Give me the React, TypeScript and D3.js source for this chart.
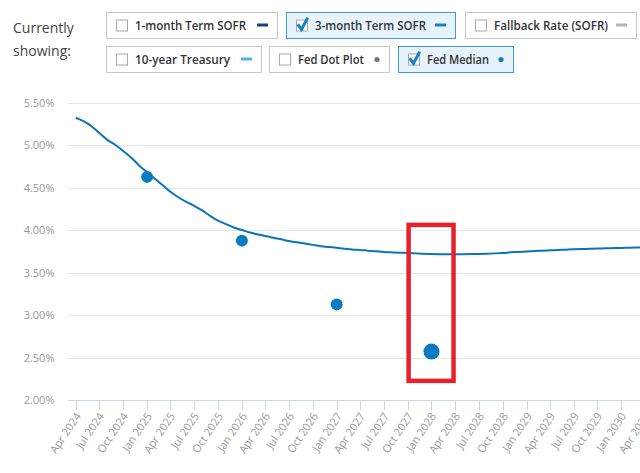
import React from "react";
import * as d3 from "d3";

const curveMonths: string[] = [
  "2024-04","2024-05","2024-06","2024-07","2024-08","2024-09","2024-10","2024-11","2024-12",
  "2025-01","2025-02","2025-03","2025-04","2025-05","2025-06","2025-07","2025-08","2025-09","2025-10","2025-11","2025-12",
  "2026-01","2026-02","2026-03","2026-04","2026-05","2026-06","2026-07","2026-08","2026-09","2026-10","2026-11","2026-12",
  "2027-01","2027-02","2027-03","2027-04","2027-05","2027-06","2027-07","2027-08","2027-09","2027-10","2027-11","2027-12",
  "2028-01","2028-02","2028-03","2028-04","2028-05","2028-06","2028-07","2028-08","2028-09","2028-10","2028-11","2028-12",
  "2029-01","2029-02","2029-03","2029-04","2029-05","2029-06","2029-07","2029-08","2029-09","2029-10","2029-11","2029-12",
  "2030-01","2030-02","2030-03","2030-04","2030-05"
];
const sofr3m: number[] = [
  5.32,5.28,5.22,5.14,5.06,5.00,4.93,4.85,4.76,
  4.68,4.60,4.53,4.45,4.385,4.33,4.285,4.23,4.165,4.11,4.07,4.03,
  4.00,3.97,3.95,3.93,3.91,3.89,3.87,3.855,3.84,3.825,3.81,3.80,
  3.79,3.78,3.77,3.765,3.757,3.75,3.742,3.737,3.733,3.73,3.725,3.72,
  3.718,3.716,3.715,3.714,3.716,3.718,3.719,3.721,3.725,3.73,3.737,3.742,
  3.748,3.753,3.757,3.761,3.765,3.769,3.773,3.776,3.779,3.782,3.785,3.787,
  3.789,3.792,3.794,3.796,3.798
];
const medianDates: string[] = ["2025-01-01", "2026-01-01", "2027-01-01", "2028-01-01"];
const medianValues: number[] = [4.625, 3.875, 3.125, 2.57];
const yTicks: number[] = [2.0, 2.5, 3.0, 3.5, 4.0, 4.5, 5.0, 5.5];

const legendRow1 = [
  { label: "1-month Term SOFR", checked: false, sym: "dash", color: "#1d3f73", x: 106, w: 171, tw: 111 },
  { label: "3-month Term SOFR", checked: true, sym: "dash", color: "#1a80c6", x: 286, w: 169, tw: 111 },
  { label: "Fallback Rate (SOFR)", checked: false, sym: "dash", color: "#b3b3b3", x: 465, w: 171, tw: 114 },
];
const legendRow2 = [
  { label: "10-year Treasury", checked: false, sym: "dash", color: "#4cb4ea", x: 106, w: 155, tw: 95 },
  { label: "Fed Dot Plot", checked: false, sym: "dot", color: "#777777", x: 269, w: 120, tw: 66 },
  { label: "Fed Median", checked: true, sym: "dot", color: "#1a80c6", x: 398, w: 115, tw: 62 },
];

const parseMonth = d3.timeParse("%Y-%m");
const parseDay = d3.timeParse("%Y-%m-%d");

export default function App() {
  const x = d3.scaleTime()
    .domain([new Date(2024, 3, 1), new Date(2030, 0, 1)])
    .range([75.7, 621.3]);
  const y = d3.scaleLinear().domain([2, 5.5]).range([400, 102.5]);
  const plotLeft = 68;
  const plotRight = 640;

  const linePts = curveMonths.map((m, i) => [parseMonth(m) as Date, sofr3m[i]] as [Date, number]);
  const line = d3.line<[Date, number]>()
    .x(d => x(d[0]))
    .y(d => y(d[1]))
    .curve(d3.curveMonotoneX);

  const xTickDates = d3.timeMonth.range(new Date(2024, 3, 1), new Date(2030, 4, 2), 3);
  const fmt = d3.timeFormat("%b %Y");
  const yFmt = (v: number) => d3.format(".2f")(v) + "%";

  const font = "'Open Sans', 'Noto Sans', sans-serif";

  const renderLegend = (items: typeof legendRow1, top: number) =>
    items.map((it, i) => {
      const h = 26;
      const cbX = it.x + 10;
      const cbY = top + 7.5;
      const textX = it.x + 29;
      return (
        <g key={top + "-" + i}>
          <rect x={it.x + 0.5} y={top + 0.5} width={it.w} height={h}
            fill={it.checked ? "#e6f3fb" : "#ffffff"}
            stroke={it.checked ? "#3d9ad6" : "#c8c8c8"} strokeWidth={1} />
          <rect x={cbX + 0.5} y={cbY + 0.5} width={11} height={11} fill="#fff" stroke="#a8a8a8" strokeWidth={1} />
          {it.checked && (
            <path d={`M${cbX + 2.5},${cbY + 6} L${cbX + 5.5},${cbY + 10} L${cbX + 11},${cbY - 0.5}`}
              fill="none" stroke="#1a80c6" strokeWidth={3} strokeLinecap="square" />
          )}
          <text x={textX} y={top + 17.5} fontFamily={font} fontSize={13} fontWeight={600} fill="#333"
            textLength={it.tw} lengthAdjust="spacingAndGlyphs">
            {it.label}
          </text>
          {it.sym === "dash" ? (
            <rect x={it.x + it.w - 20} y={top + 11.5} width={11} height={3} fill={it.color} />
          ) : (
            <circle cx={it.x + it.w - 12} cy={top + 13.5} r={2.6} fill={it.color} />
          )}
        </g>
      );
    });

  const rx1 = x(new Date(2027, 9, 5));
  const rx2 = x(new Date(2028, 2, 26));
  const ry1 = y(4.06);
  const ry2 = y(2.225);

  return (
    <svg width={640} height={473} style={{ position: "absolute", left: 0, top: 0, background: "#fff" }}
      fontFamily={font}>
      <rect width={640} height={473} fill="#fff" />
      <text x={13} y={33} fontSize={14} fill="#444">Currently</text>
      <text x={13} y={56} fontSize={14} fill="#444">showing:</text>
      {renderLegend(legendRow1, 12)}
      {renderLegend(legendRow2, 46)}

      {yTicks.map(t => (
        <g key={"y" + t}>
          {t !== 2 && (
            <line x1={plotLeft} x2={plotRight} y1={Math.round(y(t)) + 0.5} y2={Math.round(y(t)) + 0.5}
              stroke="#e6e6e6" strokeWidth={1} />
          )}
          <text x={54.5} y={y(t) + 4} textAnchor="end" fontSize={11} fill="#999">{yFmt(t)}</text>
        </g>
      ))}
      <line x1={plotLeft} x2={plotRight} y1={400.5} y2={400.5} stroke="#ccd6eb" strokeWidth={1} />
      {xTickDates.map((d, i) => {
        const px = Math.round(x(d)) + 0.5;
        return (
          <g key={"x" + i}>
            <line x1={px} x2={px} y1={400} y2={410} stroke="#ccd6eb" strokeWidth={1} />
            <text transform={`translate(${px + 5},${416}) rotate(-56)`} textAnchor="end"
              fontSize={11} fill="#999">{fmt(d)}</text>
          </g>
        );
      })}

      <path d={line(linePts) || ""} fill="none" stroke="#0a74b9" strokeWidth={2} />

      {medianDates.map((d, i) => (
        <circle key={"m" + i} cx={x(parseDay(d) as Date)} cy={y(medianValues[i])}
          r={i === medianDates.length - 1 ? 8 : 6} fill="#0a7bc2" />
      ))}

      <rect x={rx1} y={ry1} width={rx2 - rx1} height={ry2 - ry1} fill="none" stroke="#e8202a" strokeWidth={4.5} />
    </svg>
  );
}
